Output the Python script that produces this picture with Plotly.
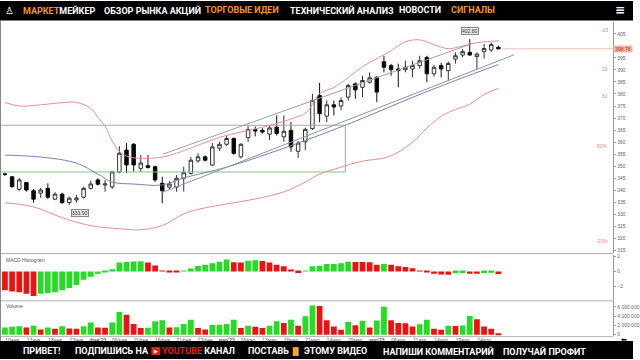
import plotly.graph_objects as go

W, H = 640, 360

# ---------------- data ----------------
opens = [346.8, 345.6, 340.4, 343.2, 339.8, 338.8, 340.8, 336.3, 338.4, 334.9,
         336.0, 337.1, 340.8, 344.3, 342.2, 341.4, 347.6, 356.7, 359.1, 349.1,
         350.2, 349.8, 342.9, 341.3, 341.3, 345.0, 347.0, 352.2, 353.9, 350.5,
         357.5, 359.1, 361.5, 353.9, 361.9, 365.2, 364.9, 363.3, 366.2, 362.2,
         364.9, 356.2, 360.1, 365.6, 379.4, 370.8, 375.5, 375.0, 378.7, 384.2,
         382.8, 384.9, 386.9, 393.4, 391.8, 390.4, 390.1, 390.4, 391.8, 395.2,
         388.4, 391.8, 389.7, 394.5, 396.2, 397.3, 395.6, 397.6, 398.3, 399.4]
highs = [347.3, 345.9, 345.1, 343.5, 340.5, 341.0, 342.9, 339.2, 339.0, 337.4,
         338.1, 341.5, 344.0, 345.0, 344.3, 348.0, 358.3, 359.6, 359.6, 354.6,
         354.6, 350.2, 345.6, 343.8, 346.3, 349.8, 353.9, 355.4, 354.5, 359.6,
         360.2, 362.6, 362.0, 359.6, 367.0, 366.5, 365.8, 366.8, 371.1, 371.1,
         368.4, 360.5, 366.0, 380.1, 384.6, 377.3, 377.3, 378.6, 384.2, 384.8,
         387.6, 389.0, 387.5, 395.9, 392.5, 392.6, 393.8, 393.8, 395.9, 395.9,
         392.0, 393.0, 393.5, 397.3, 398.7, 402.8, 397.3, 400.8, 401.4, 400.1]
lows = [346.0, 341.0, 339.6, 339.4, 334.8, 336.8, 336.4, 335.9, 334.3, 333.9,
        334.8, 336.6, 340.3, 342.0, 339.4, 340.5, 347.1, 347.1, 347.7, 347.7,
        349.0, 343.5, 334.6, 340.1, 339.4, 339.4, 346.5, 351.5, 352.0, 350.0,
        356.3, 358.4, 354.8, 353.2, 360.1, 362.4, 363.5, 360.8, 362.7, 360.1,
        356.0, 353.4, 356.7, 365.0, 368.2, 368.3, 371.1, 373.2, 377.3, 378.0,
        378.7, 384.3, 376.6, 389.0, 387.6, 382.8, 389.0, 386.9, 390.5, 384.9,
        387.2, 386.9, 385.6, 392.6, 395.2, 395.9, 390.4, 394.7, 397.5, 398.5]
closes = [346.6, 341.5, 344.3, 340.1, 336.3, 340.1, 337.1, 338.4, 334.9, 336.7,
          336.8, 340.8, 342.6, 342.5, 342.6, 347.6, 355.4, 350.5, 350.5, 351.3,
          349.5, 344.3, 339.8, 342.6, 345.0, 347.3, 352.5, 353.9, 352.5, 358.0,
          359.1, 361.5, 355.3, 359.1, 365.2, 364.6, 364.2, 365.9, 363.6, 364.5,
          358.0, 359.6, 365.3, 377.3, 371.8, 375.5, 374.6, 377.3, 383.5, 381.7,
          385.6, 386.7, 380.8, 391.1, 390.1, 389.7, 391.1, 391.8, 393.8, 388.4,
          391.1, 390.4, 392.7, 395.9, 397.6, 396.2, 396.6, 398.9, 400.5, 398.76]

macd_hist = [-2.5, -2.7, -2.8, -3.0, -3.3, -3.0, -2.9, -2.8, -2.5, -2.2,
             -1.8, -1.1, -0.7, -0.3, -0.1, 0.3, 1.2, 1.28, 1.33, 1.38,
             1.2, 0.8, 0.1, -0.1, -0.12, 0.05, 0.4, 0.75, 0.9, 1.1,
             1.3, 1.6, 1.25, 1.2, 1.45, 1.5, 1.4, 1.2, 0.9, 0.7,
             0.15, -0.2, 0.05, 0.7, 0.78, 1.0, 1.02, 1.1, 1.3, 1.28,
             1.27, 1.25, 0.9, 1.0, 0.9, 0.7, 0.6, 0.45, 0.1, -0.05,
             -0.3, -0.42, -0.45, -0.25, -0.2, -0.3, -0.32, -0.2, -0.18, -0.33]

volume_mln = [1.55, 1.7, 1.8, 1.55, 1.9, 1.1, 1.55, 1.25, 1.8, 1.35,
              1.3, 1.8, 2.6, 1.55, 1.5, 2.6, 4.9, 4.3, 2.3, 1.45,
              1.5, 2.9, 3.1, 1.55, 1.6, 2.3, 3.2, 1.45, 1.1, 2.1,
              2.15, 2.3, 3.2, 1.45, 1.9, 1.7, 1.45, 1.9, 2.9, 2.5,
              3.2, 1.9, 4.0, 6.3, 6.2, 3.1, 1.75, 1.05, 2.75, 2.05,
              3.0, 1.55, 3.05, 6.05, 3.1, 2.5, 2.45, 1.75, 2.25, 3.2,
              1.3, 1.05, 1.9, 1.85, 2.0, 4.05, 3.35, 1.75, 1.3, 0.3]

date_labels = ["10янв", "13янв", "18янв", "23янв", "<b>фев'23</b>", "06фев", "11фев",
               "16фев", "21фев", "27фев", "<b>мар'23</b>", "06мар", "13мар", "16мар",
               "21мар", "24мар", "29мар", "<b>апр'23</b>", "06апр", "11апр", "14апр",
               "19апр", "24апр"]
date_idx = list(range(1, 70, 3))

bb_upper_idx = [0, 2, 5, 8, 10, 12, 13, 14, 15, 16, 17, 19, 22, 24, 27, 30, 33, 36, 39,
                41, 42, 43, 44, 46, 48, 50, 52, 54, 56, 58, 60, 62, 64, 66, 69]
bb_upper = [376.5, 375.0, 375.5, 376.4, 376.5, 374.0, 370.3, 366.6, 360.4, 356.2, 354.2,
            353.2, 353.8, 355.4, 358.7, 362.0, 364.2, 366.2, 368.6, 370.7, 371.9, 375.6,
            380.2, 382.7, 386.8, 391.4, 394.7, 398.0, 401.7, 402.5, 400.5, 398.8, 400.0,
            401.3, 402.1]
bb_lower_idx = [0, 4, 8, 12, 16, 19, 22, 25, 28, 31, 35, 39, 42, 44, 47, 50, 53, 55, 57,
                59, 61, 63, 65, 67, 69]
bb_lower = [334.8, 333.1, 328.6, 325.3, 324.0, 323.6, 325.3, 330.2, 332.7, 334.3, 336.4,
            339.3, 343.4, 346.7, 349.6, 352.1, 353.4, 355.8, 360.0, 365.8, 370.7, 373.6,
            375.7, 379.8, 382.3]
bb_mid_idx = [0, 5, 10, 13, 15, 18, 22, 25, 31, 37, 44, 50, 57, 63, 69]
bb_mid = [354.6, 353.8, 351.3, 346.7, 343.4, 342.6, 342.2, 345.1, 349.6, 355.4, 362.9,
          369.9, 378.6, 385.6, 392.2]

channel_top_idx = [22.1, 65.3]
channel_top = [355.0, 400.9]
trend_low_idx = [21.85, 71.2]
trend_low = [338.9, 396.3]

price_ticks = [p for p in range(315, 411, 5) if p != 400]
last_price = 398.76
box_top, box_bottom, box_end_idx = 367.0, 347.6, 47.6

# ---------------- figure ----------------
n = len(closes)
xs = list(range(n))
GREEN, RED = "#22dd22", "#ee1111"
macd_colors = [RED if i == 0 or macd_hist[i] < macd_hist[i - 1] else GREEN for i in range(n)]
vol = [v * 1e6 for v in volume_mln]
vol_colors = [GREEN if i == 0 or vol[i] >= vol[i - 1] else RED for i in range(n)]

fig = go.Figure()

fig.add_trace(go.Scatter(x=[-1, box_end_idx, box_end_idx], y=[box_top, box_top, box_bottom],
                         mode="lines", line=dict(color="#a8a8a8", width=1),
                         hoverinfo="skip", showlegend=False))
fig.add_trace(go.Scatter(x=[-1, box_end_idx], y=[box_bottom, box_bottom],
                         mode="lines", line=dict(color="#8cc08c", width=1),
                         hoverinfo="skip", showlegend=False))
fig.add_trace(go.Scatter(x=[n - 0.5, 90], y=[last_price, last_price], mode="lines",
                         line=dict(color="#e8c0b8", width=1), hoverinfo="skip", showlegend=False))

for xi, yi, col in [(bb_upper_idx, bb_upper, "#e39090"), (bb_lower_idx, bb_lower, "#e39090"),
                    (bb_mid_idx, bb_mid, "#7484b4")]:
    fig.add_trace(go.Scatter(x=xi, y=yi, mode="lines", line=dict(color=col, width=1, shape="spline"),
                             hoverinfo="skip", showlegend=False))
fig.add_trace(go.Scatter(x=channel_top_idx, y=channel_top, mode="lines",
                         line=dict(color="#a0a0a0", width=1), hoverinfo="skip", showlegend=False))
fig.add_trace(go.Scatter(x=trend_low_idx, y=trend_low, mode="lines",
                         line=dict(color="#8a94a8", width=1), hoverinfo="skip", showlegend=False))

fig.add_trace(go.Candlestick(
    x=xs, open=opens, high=highs, low=lows, close=closes,
    increasing=dict(line=dict(color="#333", width=1), fillcolor="#ffffff"),
    decreasing=dict(line=dict(color="#111", width=1), fillcolor="#000000"),
    whiskerwidth=0, showlegend=False, hoverinfo="skip"))

fig.add_trace(go.Bar(x=xs, y=macd_hist, marker=dict(color=macd_colors, line=dict(width=0)),
                     width=0.8, yaxis="y2", showlegend=False, hoverinfo="skip"))
fig.add_trace(go.Bar(x=xs, y=vol, marker=dict(color=vol_colors, line=dict(width=0)),
                     width=0.8, yaxis="y3", showlegend=False, hoverinfo="skip"))

XD = 620 / W
def py(p):
    return 1 - p / H

ax_font = dict(family="Liberation Sans, Arial", size=5, color="#666")
fig.update_layout(
    width=W, height=H, margin=dict(l=0, r=0, t=0, b=0),
    paper_bgcolor="white", plot_bgcolor="white", bargap=0.2,
    xaxis=dict(domain=[0, XD], range=[-0.69, 85.06], anchor="y3",
               tickmode="array", tickvals=date_idx, ticktext=date_labels,
               tickfont=ax_font, showgrid=False, zeroline=False, ticks="",
               rangeslider=dict(visible=False), showline=False),
    yaxis=dict(domain=[py(253), py(21)], range=[314.1, 409.96], side="right",
               tickmode="array", tickvals=price_ticks, tickfont=ax_font,
               showgrid=False, zeroline=False, showline=True, linecolor="#999",
               linewidth=1, ticks="outside", ticklen=2, tickcolor="#999", anchor="x"),
    yaxis2=dict(domain=[py(301), py(255)], range=[-3.867, 2.267], side="right",
                tickmode="array", tickvals=[-2, 0, 2], tickfont=ax_font,
                showgrid=False, zeroline=False, showline=True, linecolor="#999",
                ticks="outside", ticklen=2, tickcolor="#999", anchor="x"),
    yaxis3=dict(domain=[py(337), py(302)], range=[-0.32e6, 7.2e6], side="right",
                tickmode="array", tickvals=[0, 2e6, 4e6, 6e6],
                ticktext=["0", "2 000 000", "4 000 000", "6 000 000"], tickfont=ax_font,
                showgrid=False, zeroline=False, showline=True, linecolor="#999",
                ticks="outside", ticklen=2, tickcolor="#999", anchor="x"),
)

shapes = []
for yy in [254, 301.5, 337.5]:
    shapes.append(dict(type="line", xref="paper", yref="paper", x0=0, x1=XD, y0=py(yy), y1=py(yy),
                       line=dict(color="#b0b0b0", width=1)))
shapes.append(dict(type="line", xref="paper", yref="paper", x0=0.5 / W, x1=0.5 / W, y0=py(342), y1=py(20),
                   line=dict(color="#888", width=1)))
shapes.append(dict(type="rect", xref="paper", yref="paper", x0=0, x1=1, y0=py(19.5), y1=1,
                   fillcolor="#000", line=dict(width=0), layer="above"))
shapes.append(dict(type="rect", xref="paper", yref="paper", x0=0, x1=1, y0=0, y1=py(342),
                   fillcolor="#000", line=dict(width=0), layer="above"))
shapes.append(dict(type="rect", xref="paper", yref="paper", x0=153 / W, x1=162 / W, y0=py(356), y1=py(348),
                   fillcolor="#e62117", line=dict(width=0), layer="above"))
shapes.append(dict(type="rect", xref="paper", yref="paper", x0=296 / W, x1=302 / W, y0=py(357), y1=py(348),
                   fillcolor="#f5a623", line=dict(width=0), layer="above"))
fig.update_layout(shapes=shapes)

ORANGE = "#f7941d"
hdr_font = dict(family="Roboto, Liberation Sans", size=9, color="white")
ann = []
def txt(x, y, s, font, xanchor="left", **kw):
    ann.append(dict(x=x / W, y=py(y), xref="paper", yref="paper", text=s, showarrow=False,
                    xanchor=xanchor, yanchor="middle", font=font, **kw))

txt(3, 9.5, "♙", dict(family="DejaVu Sans", size=10, color="white"))
txt(21, 9.5, f"<b><span style='color:{ORANGE}'>МАРКЕТ</span>МЕЙКЕР</b>", hdr_font)
txt(103, 9.5, "<b>ОБЗОР РЫНКА АКЦИЙ</b>", hdr_font)
txt(205, 9.5, "<b>ТОРГОВЫЕ ИДЕИ</b>", dict(hdr_font, color=ORANGE))
txt(291, 9.5, "<b>ТЕХНИЧЕСКИЙ АНАЛИЗ</b>", hdr_font)
txt(401, 9.5, "<b>НОВОСТИ</b>", hdr_font)
txt(454, 9.5, "<b>СИГНАЛЫ</b>", dict(hdr_font, color=ORANGE))
txt(634, 9.5, "<b>≡</b>", dict(family="DejaVu Sans", size=12, color="white"), xanchor="right")

txt(21, 352, "<b>ПРИВЕТ!</b>", hdr_font)
txt(74, 352, "<b>ПОДПИШИСЬ НА</b>", hdr_font)
txt(157.5, 352, "▶", dict(family="DejaVu Sans", size=5, color="white"), xanchor="center")
txt(162, 352, f"<b><span style='color:#e62117'>YOUTUBE</span> КАНАЛ</b>", hdr_font)
txt(249, 352, "<b>ПОСТАВЬ</b>", hdr_font)
txt(305, 352, "<b>ЭТОМУ ВИДЕО</b>", hdr_font)
txt(385, 352, "<b>НАПИШИ КОММЕНТАРИЙ</b>", hdr_font)
txt(507, 352, "<b>ПОЛУЧАЙ ПРОФИТ</b>", hdr_font)

small = dict(family="Liberation Sans, Arial", size=5, color="#555")
txt(4, 260, "MACD Histogram", small)
txt(4, 307, "Volume", small)
txt(631, 340.5, "⬅", dict(family="DejaVu Sans", size=7, color="#000"), xanchor="center")

fib = dict(family="Liberation Sans, Arial", size=5, color="#d98a80")
for yy, s in [(29, "-23"), (68, "23"), (96, "61"), (146, "50%"), (241, "-20%")]:
    txt(617, yy, s, fib, xanchor="right")

ann.append(dict(x=1.0, y=last_price, xref="paper", yref="y", text="398.76", showarrow=False,
                xanchor="right", yanchor="middle", bgcolor="#f3b7a8",
                font=dict(family="Liberation Sans, Arial", size=5, color="#b03020"),
                borderpad=0, width=18))
ann.append(dict(x=65, y=highs[65] + 1.7, xref="x", yref="y", text="402.80", showarrow=False,
                yanchor="bottom", bgcolor="#e8e8e8", bordercolor="#888", borderwidth=1, borderpad=0,
                font=dict(family="Liberation Sans, Arial", size=5, color="#333")))
ann.append(dict(x=10.5, y=min(lows) - 1.5, xref="x", yref="y", text="333.90", showarrow=False,
                yanchor="top", bgcolor="#e8e8e8", bordercolor="#888", borderwidth=1, borderpad=0,
                font=dict(family="Liberation Sans, Arial", size=5, color="#333")))
fig.update_layout(annotations=ann)

fig.write_html("out.html")
